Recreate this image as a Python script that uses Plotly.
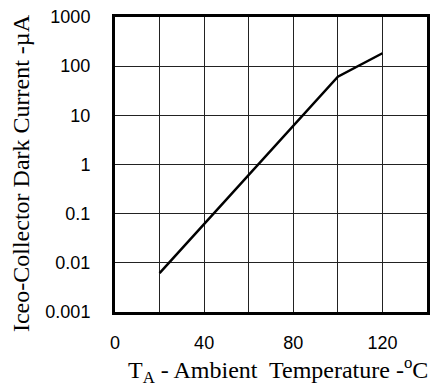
import plotly.graph_objects as go

# Data
temperature_c = [20, 100, 120]
dark_current_ua = [0.0062, 61, 183]

x_tickvals = [0, 20, 40, 60, 80, 100, 120, 140]
x_ticktext = ["0", " ", "40", " ", "80", " ", "120", " "]
y_tickvals = [0.001, 0.01, 0.1, 1, 10, 100, 1000]
y_ticktext = ["0.001", "0.01", "0.1", "1", "10", "100", "1000"]

fig = go.Figure()
fig.add_trace(go.Scatter(
    x=temperature_c, y=dark_current_ua, mode="lines",
    line=dict(color="black", width=2.5), showlegend=False, hoverinfo="skip"))

W, H = 433, 385
L, R, T, B = 115, 3, 17, 73

fig.update_layout(
    width=W, height=H,
    margin=dict(l=L, r=R, t=T, b=B),
    paper_bgcolor="white", plot_bgcolor="white",
    font=dict(family="Liberation Sans, Arial", size=18, color="black"),
    xaxis=dict(
        range=[0, 140], tickvals=x_tickvals, ticktext=x_ticktext,
        showgrid=True, gridcolor="#222", gridwidth=1,
        showline=True, linecolor="black", linewidth=3, mirror=True,
        ticks="", ticklabelstandoff=12, zeroline=False,
        tickfont=dict(size=18),
    ),
    yaxis=dict(
        type="log", range=[-3, 3], tickvals=y_tickvals, ticktext=y_ticktext,
        showgrid=True, gridcolor="#222", gridwidth=1,
        showline=True, linecolor="black", linewidth=3, mirror=True,
        ticks="", ticklabelstandoff=18, zeroline=False,
        tickfont=dict(size=18),
    ),
    annotations=[
        dict(text="T<sub>A</sub> - Ambient&nbsp; Temperature -<sup>o</sup>C",
             xref="paper", yref="paper", x=(433 - L) / (W - L - R), xanchor="right",
             y=-(389 - (H - B)) / (H - T - B), yanchor="bottom",
             showarrow=False, font=dict(family="Liberation Serif, Times New Roman", size=24)),
        dict(text="Iceo-Collector Dark Current -µA",
             xref="paper", yref="paper", x=-(L - 5) / (W - L - R), xanchor="left",
             y=((H - B) - 173) / (H - T - B), yanchor="middle", textangle=-90,
             showarrow=False, font=dict(family="Liberation Serif, Times New Roman", size=24)),
    ],
)

fig.write_html("out.html", config={"displayModeBar": False},
               post_script="document.body.style.margin='0';")
